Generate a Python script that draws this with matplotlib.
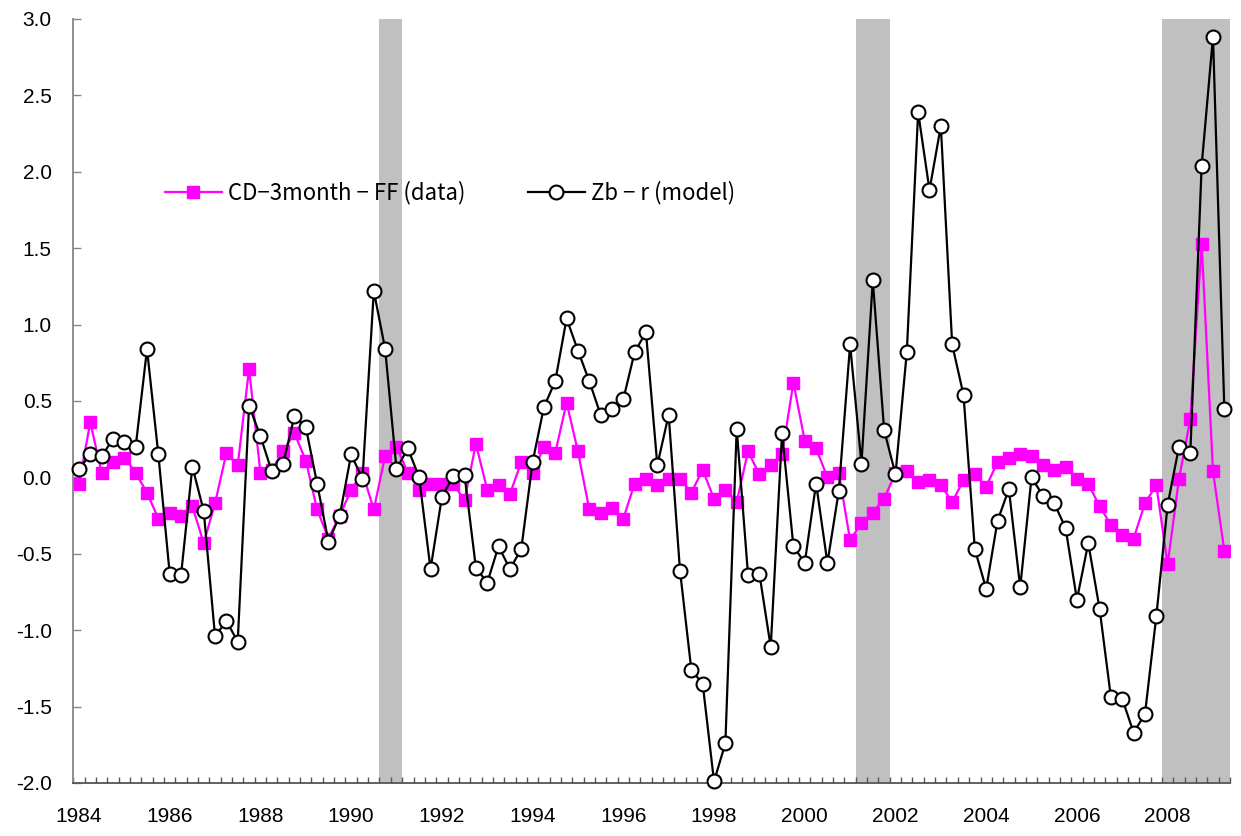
import matplotlib
matplotlib.use("Agg")
import matplotlib.pyplot as plt
import numpy as np

# Quarterly data 1984Q1 .. 2009Q2
start_year = 1984
cd_ff = [-0.04, 0.36, 0.03, 0.10, 0.13, 0.03, -0.10, -0.27, -0.23, -0.25,
         -0.19, -0.43, -0.17, 0.16, 0.08, 0.71, 0.03, 0.05, 0.17, 0.29,
         0.11, -0.21, -0.40, -0.25, -0.08, 0.03, -0.21, 0.14, 0.20, 0.03,
         -0.08, -0.04, -0.04, -0.04, -0.15, 0.22, -0.08, -0.05, -0.11, 0.10,
         0.03, 0.20, 0.16, 0.49, 0.17, -0.21, -0.23, -0.20, -0.27, -0.04,
         -0.01, -0.05, -0.01, -0.01, -0.10, 0.05, -0.14, -0.08, -0.16, 0.17,
         0.02, 0.08, 0.15, 0.62, 0.24, 0.19, 0.00, 0.03, -0.41, -0.30,
         -0.23, -0.14, 0.03, 0.04, -0.03, -0.02, -0.05, -0.16, -0.02, 0.02,
         -0.06, 0.10, 0.13, 0.15, 0.14, 0.08, 0.05, 0.07, -0.01, -0.04,
         -0.19, -0.31, -0.38, -0.40, -0.17, -0.05, -0.57, -0.01, 0.38, 1.53,
         0.04, -0.48]
zb_r = [0.055, 0.15, 0.14, 0.25, 0.23, 0.20, 0.84, 0.15, -0.63, -0.64,
        0.07, -0.22, -1.04, -0.94, -1.075, 0.47, 0.27, 0.04, 0.09, 0.40,
        0.33, -0.04, -0.42, -0.25, 0.15, -0.01, 1.22, 0.84, 0.055, 0.19,
        0.00, -0.60, -0.13, 0.01, 0.015, -0.59, -0.69, -0.45, -0.60, -0.47,
        0.10, 0.46, 0.63, 1.04, 0.83, 0.63, 0.41, 0.45, 0.51, 0.82,
        0.95, 0.08, 0.41, -0.61, -1.26, -1.35, -1.99, -1.74, 0.32, -0.64,
        -0.63, -1.11, 0.29, -0.45, -0.56, -0.04, -0.56, -0.09, 0.87, 0.09,
        1.29, 0.31, 0.02, 0.82, 2.39, 1.88, 2.30, 0.87, 0.54, -0.47,
        -0.73, -0.285, -0.076, -0.72, 0.00, -0.12, -0.17, -0.33, -0.80, -0.43,
        -0.86, -1.44, -1.45, -1.67, -1.55, -0.91, -0.18, 0.20, 0.16, 2.04,
        2.885, 0.45]
# recession periods as (first quarter index, end quarter index exclusive)
recessions = [(27, 29), (69, 72), (96, 102)]
year_labels = list(range(1984, 2009, 2))
label_cd = "CD\u22123month \u2212 FF (data)"
label_zb = "Zb \u2212 r (model)"

n = len(cd_ff)
x = np.arange(n) + 0.5

fig = plt.figure(figsize=(12.41, 8.36), dpi=100)
ax = fig.add_axes([73.3/1241, 1 - 783/836, (1230 - 73.3)/1241, (783 - 19)/836])

for a, b in recessions:
    ax.axvspan(a, b, color="#C0C0C0", lw=0, zorder=0)

ax.plot(x, cd_ff, color="#FF00FF", lw=1.6, marker="s", markersize=8.3,
        markerfacecolor="#FF00FF", markeredgecolor="#FF00FF", zorder=2,
        label=label_cd)
ax.plot(x, zb_r, color="black", lw=1.6, marker="o", markersize=10,
        markerfacecolor="white", markeredgecolor="black", markeredgewidth=1.5,
        zorder=3, label=label_zb, clip_on=False)

ax.set_xlim(0, n)
ax.set_ylim(-2.0, 3.0)

ax.set_yticks(np.arange(-2.0, 3.01, 0.5))
ax.set_yticklabels([f"{v:.1f}" for v in np.arange(-2.0, 3.01, 0.5)])
ax.tick_params(axis="y", direction="in", length=6, width=1, color="#868686",
               labelsize=15, pad=15.5)

ax.set_xticks([(y - start_year) * 4 + 0.5 for y in year_labels])
ax.set_xticklabels([str(y) for y in year_labels])
ax.set_xticks(np.arange(0, n + 1), minor=True)
ax.tick_params(axis="x", which="major", length=0, labelsize=15, pad=17)
ax.tick_params(axis="x", which="minor", direction="in", length=4, width=1,
               color="#555555")

for s in ["top", "right"]:
    ax.spines[s].set_visible(False)
ax.spines["left"].set_color("#868686")
ax.spines["left"].set_linewidth(1.3)
ax.spines["bottom"].set_color("#555555")
ax.spines["bottom"].set_linewidth(1.3)

for lbl in ax.get_xticklabels() + ax.get_yticklabels():
    lbl.set_fontfamily(["Liberation Sans", "DejaVu Sans"])

leg = fig.legend(loc="center left", bbox_to_anchor=(165/1241, 1 - 193/836),
                 ncol=2, frameon=False, handlelength=2.55, handletextpad=0.3,
                 columnspacing=2.8, borderpad=0, borderaxespad=0,
                 prop={"family": ["Noto Sans CJK JP", "DejaVu Sans"], "size": 16})

fig.savefig("out.png", dpi=100)
